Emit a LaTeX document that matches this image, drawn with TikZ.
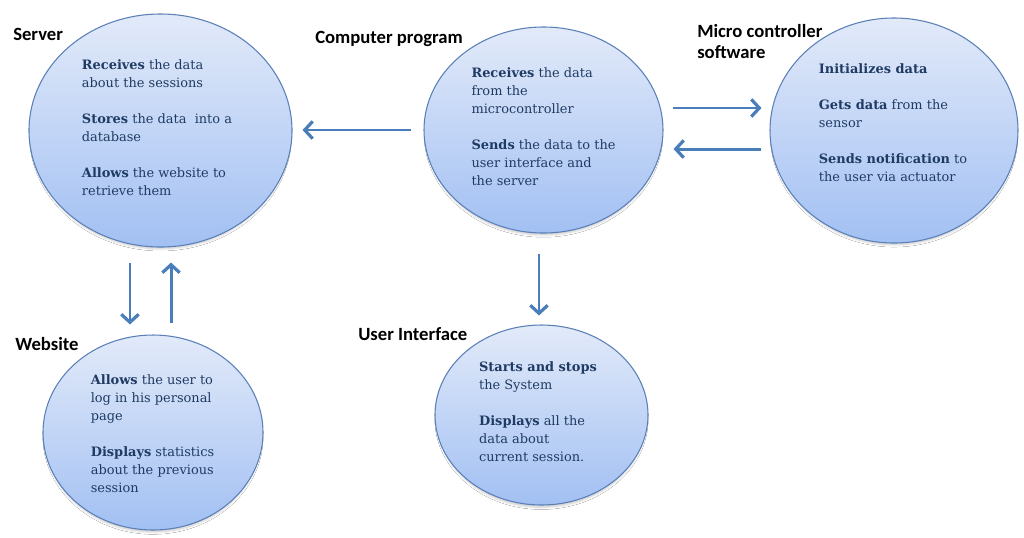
\documentclass[tikz,border=0pt]{standalone}
\usepackage{fontspec}
\setmainfont{DejaVu Serif}
\newfontfamily\labfont{Carlito}[BoldFont={Carlito Bold}]
\usetikzlibrary{shapes.geometric,arrows.meta,shadows.blur,calc}
\definecolor{txt}{HTML}{1F3B63}
\definecolor{arrc}{HTML}{4A7EBB}
\definecolor{edgec}{HTML}{5B80B8}
\definecolor{topc}{HTML}{E2EAF9}
\definecolor{botc}{HTML}{A2C0F3}
\tikzset{
  blob/.style={ellipse, draw=edgec, line width=0.8pt, top color=topc, bottom color=botc,
    inner sep=0pt, blur shadow={shadow xshift=0pt,shadow yshift=-3pt,shadow scale=0.98,shadow blur radius=1.8pt,shadow opacity=22}},
  body/.style={align=left, text=txt, inner sep=0pt, font=\fontsize{9.7}{13.5}\selectfont},
  lab/.style={anchor=base west, inner sep=0pt, font=\labfont\bfseries\fontsize{14}{15.75}\selectfont},
  arr/.style={draw=arrc, line width=2.2pt, -{Straight Barb[length=6pt,width=13pt,line width=2.4pt]}},
}
\begin{document}
\begin{tikzpicture}[x=0.75pt,y=-0.75pt]
\fill[white] (0,0) rectangle (1024,537);
\useasboundingbox (0,0) rectangle (1024,537);

% ellipses
\node[blob, minimum width=197.25pt, minimum height=174.75pt] (srv) at (160.5,130.5) {};
\node[blob, minimum width=179.25pt, minimum height=154.5pt] (cp) at (543.5,130) {};
\node[blob, minimum width=186pt, minimum height=168.75pt] (mc) at (894,130.5) {};
\node[blob, minimum width=165pt, minimum height=146.25pt] (web) at (153,432.5) {};
\node[blob, minimum width=159.75pt, minimum height=135pt] (ui) at (541.5,415) {};

% texts
\node[body] (srvT) at (157,128) {\textbf{Receives} the data\\about the sessions\\[13.5pt]\textbf{Stores} the data~ into a\\database\\[13.5pt]\textbf{Allows} the website to\\retrieve them};
\node[body] (cpT) at (543.5,127) {\textbf{Receives} the data\\from the\\microcontroller\\[13.5pt]\textbf{Sends} the data to the\\user interface and\\the server};
\node[body] (mcT) at (893,122.5) {\textbf{Initializes data}\\[13.5pt]\textbf{Gets data} from the\\sensor\\[13.5pt]\textbf{Sends notification} to\\the user via actuator};
\node[body] (webT) at (152.5,434) {\textbf{Allows} the user to\\log in his personal\\page\\[13.5pt]\textbf{Displays} statistics\\about the previous\\session};
\node[body] (uiT) at (538,412) {\textbf{Starts and stops}\\the System\\[13.5pt]\textbf{Displays} all the\\data about\\current session.};

% labels
\node[lab] (srvL) at (13,40) {Server};
\node[lab] (cpL) at (315,43) {Computer program};
\node[lab, anchor=north west, align=left] (mcL) at (697,24) {Micro controller\\software};
\node[lab] (webL) at (15,350) {Website};
\node[lab] (uiL) at (358,340) {User Interface};

% arrows
\draw[arr, shorten <=9pt, shorten >=7.5pt] (cp.west) -- (cp.west -| srv.east);
\draw[arr, shorten <=6.75pt, shorten >=6pt] ([yshift=16.5pt]cp.east) -- ([yshift=16.5pt]cp.east -| mc.west);
\draw[arr, shorten <=6pt, shorten >=7.5pt] ([yshift=-13.9pt]mc.west) -- ([yshift=-13.9pt]mc.west -| cp.east);
\draw[arr, shorten <=11.25pt, shorten >=7.5pt] ([xshift=-22.9pt]srv.south) -- ([xshift=-22.9pt]srv.south |- web.north);
\draw[arr, shorten <=8.25pt, shorten >=11.25pt] ([xshift=7.9pt]srv.south |- web.north) -- ([xshift=7.9pt]srv.south);
\draw[arr, shorten <=15pt, shorten >=6.75pt] ([xshift=-3.4pt]cp.south) -- ([xshift=-3.4pt]cp.south |- ui.north);
\end{tikzpicture}
\end{document}
